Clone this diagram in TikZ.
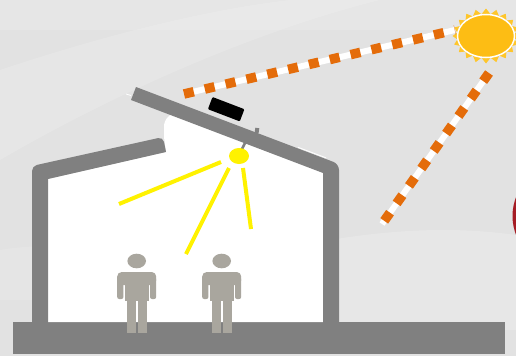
\documentclass[tikz,border=0pt]{standalone}
\usetikzlibrary{calc}
\definecolor{bgbase}{HTML}{E2E2E2}
\definecolor{wallgray}{HTML}{808080}
\definecolor{personcol}{HTML}{A9A69E}
\definecolor{lightray}{HTML}{FFF200}
\definecolor{beamorange}{HTML}{E46C0A}
\definecolor{sunbody}{HTML}{FDBD14}
\definecolor{sunspike}{HTML}{FEC62C}
\definecolor{deepred}{HTML}{A51C24}
\tikzset{
  wall/.style={fill=wallgray},
  lightbeam/.style={draw=lightray, line width=4pt},
  beamcore/.style={draw=white, line width=6pt},
  beamdash/.style={draw=beamorange, line width=9.5pt, dash pattern=on 10pt off 11.4pt},
  human/.pic={
    \fill[personcol] (0,0) ellipse [x radius=9.3, y radius=7.3];
    \fill[personcol, rounded corners=4.5pt] (-19.5,11) rectangle (19.5,24);
    \fill[personcol, rounded corners=2pt] (-19.5,16) rectangle (-13.3,38);
    \fill[personcol, rounded corners=2pt] (13.3,16) rectangle (19.5,38);
    \fill[personcol] (-11.8,16) rectangle (11.8,40);
    \fill[personcol] (-10.2,38) rectangle (-0.9,72);
    \fill[personcol] (0.9,38) rectangle (10.4,72);
  }
}
\begin{document}
\begin{tikzpicture}[x=1pt,y=-1pt]
\useasboundingbox (0,0) rectangle (516,356);
\clip (0,0) rectangle (516,356);

% backdrop with soft lighter swathes
\fill[bgbase] (0,0) rectangle (516,356);
\fill[white, opacity=.16] (0,70) .. controls (90,40) and (200,10) .. (290,0)
  -- (380,0) .. controls (260,30) and (120,90) .. (0,160) -- cycle;
\fill[white, opacity=.14] (0,0) rectangle (516,30);
\fill[white, opacity=.18] (330,240) .. controls (420,225) and (480,230) .. (516,235)
  -- (516,330) -- (330,330) -- cycle;
\fill[white, opacity=.12] (0,250) .. controls (60,240) and (150,250) .. (250,240)
  -- (250,300) -- (0,300) -- cycle;

% partly visible red disc at the right edge
\fill[deepred] (565,216) circle [radius=52.5];

% ground slab
\fill[wall] (13,322) rectangle (505,354);

% interior
\fill[white] (48,322) -- (48,179) -- (166,152) -- (164,137)
  [rounded corners=5pt] -- (164,121) -- (175,110) [sharp corners] -- (323,170) -- (323,322) -- cycle;

% left wall and left roof
\fill[wall] (32,322) [rounded corners=5pt] -- (32,166) -- (163,137) [sharp corners]
  -- (166,152) -- (48,179) -- (48,322) -- cycle;

% tilted roof panel and right wall
\fill[wall] (131,100) -- (136,87) [rounded corners=6pt] -- (339,164) [sharp corners]
  -- (339,322) -- (323,322) -- (323,173) -- cycle;
\draw[white, line width=0.8pt] (126,94) -- (131,95.5);
\draw[white, line width=0.8pt] (298,147.3) -- (326,157.8);

% collector box on the panel
\fill[black, rounded corners=1pt] (212.5,97) -- (244.4,109.2) -- (239.8,121.4) -- (207.9,109.2) -- cycle;

% knob and lamp stem
\draw[wallgray, line width=4pt] (256.6,133) -- (257.3,128);
\draw[wallgray, line width=2.5pt] (241.5,150) -- (245.5,142);

% lamp and its light
\coordinate (lamp) at (239,156);
\draw[lightbeam] (221,162) -- (119,204);
\draw[lightbeam] (229,168) -- (186,254);
\draw[lightbeam] (243,168) -- (251,229);
\fill[lightray] (lamp) ellipse [x radius=10, y radius=8];

% occupants
\pic at (136.7,261) {human};
\pic at (221.7,261) {human};

% sun
\coordinate (sun) at (486,36);
\fill[sunspike] plot[domain=0:360, samples=41, variable=\t]
  ({486+(31.25+2.25*cos(20*\t))*cos(\t)}, {36+(24.75+2.75*cos(20*\t))*sin(\t)}) -- cycle;
\filldraw[fill=sunbody, draw=white, line width=1.5pt] (sun) ellipse [x radius=28.5, y radius=21.5];

% sun beams
\coordinate (b1s) at (184,94);
\coordinate (b1e) at (455,30);
\coordinate (b2s) at (489,73);
\coordinate (b2e) at (382,224);
\draw[beamcore] (b1s) -- (b1e);
\draw[beamdash] (b1s) -- (b1e);
\draw[beamcore] (b2s) -- (b2e);
\draw[beamdash] (b2s) -- (b2e);
\end{tikzpicture}
\end{document}
